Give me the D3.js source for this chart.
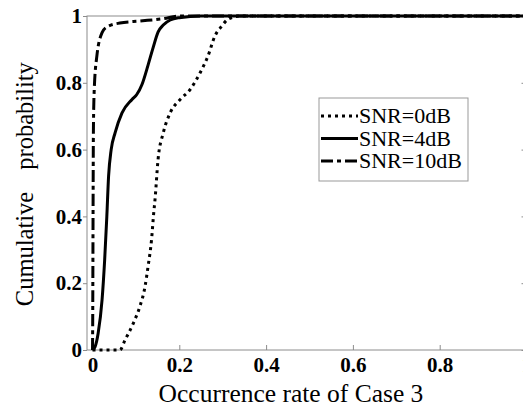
<!DOCTYPE html>
<html>
<head>
<meta charset="utf-8">
<script src="https://cdn.jsdelivr.net/npm/d3@7"></script>
<style>
  body { margin: 0; background: #fff; }
  svg text { font-family: "Liberation Serif", "Times New Roman", Times, "DejaVu Serif", serif !important; }
</style>
</head>
<body>
<svg id="chart" width="523" height="416"></svg>
<script>
// CDF curves
const snr0_x  = [0, 0.03, 0.063, 0.075, 0.094, 0.109, 0.121, 0.128, 0.136, 0.141, 0.144, 0.151, 0.163, 0.179, 0.202, 0.225, 0.248, 0.266, 0.282, 0.298, 0.312, 0.34, 0.5, 1]
const snr0_y  = [0, 0, 0, 0.03, 0.08, 0.13, 0.19, 0.25, 0.33, 0.41, 0.45, 0.57, 0.65, 0.71, 0.75, 0.78, 0.83, 0.88, 0.94, 0.97, 0.99, 1, 1, 1]

const snr4_x  = [0, 0.006, 0.013, 0.022, 0.028, 0.033, 0.037, 0.043, 0.052, 0.068, 0.091, 0.102, 0.114, 0.128, 0.140, 0.151, 0.163, 0.179, 0.2, 0.25, 0.5, 1]
const snr4_y  = [0, 0.01, 0.05, 0.15, 0.27, 0.40, 0.52, 0.60, 0.65, 0.71, 0.75, 0.765, 0.795, 0.853, 0.907, 0.952, 0.973, 0.988, 0.995, 1, 1, 1]

const snr10_x = [0, 0.0005, 0.001, 0.0015, 0.002, 0.004, 0.01, 0.022, 0.033, 0.063, 0.11, 0.163, 0.2, 0.5, 1]
const snr10_y = [0, 0.1, 0.3, 0.5, 0.65, 0.78, 0.88, 0.95, 0.967, 0.979, 0.985, 0.992, 1, 1, 1]

const seriesNames = ["SNR=0dB", "SNR=4dB", "SNR=10dB"]
const xTicks = [0, 0.2, 0.4, 0.6, 0.8, 1]
const yTicks = [0, 0.2, 0.4, 0.6, 0.8, 1]

const series = [
  {name: seriesNames[0], pts: snr0_x.map((d, i) => [d, snr0_y[i]]), dash: "3,4"},
  {name: seriesNames[1], pts: snr4_x.map((d, i) => [d, snr4_y[i]]), dash: null},
  {name: seriesNames[2], pts: snr10_x.map((d, i) => [d, snr10_y[i]]), dash: "12,4,4,4"}
]

const serif = '"Liberation Serif", "Times New Roman", Times, "DejaVu Serif", serif'
const svg = d3.select("#chart")
const plotL = 87, plotR = 526.5, plotT = 16, plotB = 350

const x = d3.scaleLinear().domain([-0.0127, 1]).range([plotL, plotR])
const y = d3.scaleLinear().domain([0, 1]).range([plotB, plotT])

svg.append("rect").attr("width", 523).attr("height", 416).attr("fill", "#fff")

// frame
const axisCol = "#8c8c8c"
svg.append("rect")
   .attr("x", plotL).attr("y", plotT)
   .attr("width", plotR - plotL).attr("height", plotB - plotT)
   .attr("fill", "none").attr("stroke", axisCol).attr("stroke-width", 1)

const xAxis = svg.append("g")
   .attr("transform", `translate(0,${plotB})`)
   .call(d3.axisBottom(x).tickValues(xTicks).tickSize(-5).tickPadding(7).tickFormat(d3.format("~g")))
xAxis.attr("font-family", serif)
xAxis.select(".domain").remove()
xAxis.selectAll("line").attr("stroke", axisCol)
xAxis.selectAll("text")
     .attr("fill", "#000").attr("font-size", 21).attr("font-weight", "bold")

const yAxis = svg.append("g")
   .attr("transform", `translate(${plotL},0)`)
   .call(d3.axisLeft(y).tickValues(yTicks).tickSize(4).tickPadding(1).tickFormat(d3.format("~g")))
yAxis.attr("font-family", serif)
yAxis.select(".domain").remove()
yAxis.selectAll("line").attr("stroke", axisCol)
yAxis.selectAll("text")
     .attr("fill", "#000").attr("font-size", 21).attr("font-weight", "bold")

// inward ticks on the right side
const yRight = svg.append("g")
   .attr("transform", `translate(${plotR},0)`)
   .call(d3.axisRight(y).tickValues(yTicks).tickSize(-5).tickFormat(""))
yRight.select(".domain").remove()
yRight.selectAll("line").attr("stroke", axisCol)

const line = d3.line()
   .x(d => x(d[0]))
   .y(d => y(d[1]))
   .curve(d3.curveMonotoneX)

svg.append("g").selectAll("path")
   .data(series)
   .enter()
   .append("path")
   .attr("d", d => line(d.pts))
   .attr("fill", "none")
   .attr("stroke", "#000")
   .attr("stroke-width", 3)
   .attr("stroke-dasharray", d => d.dash)

// axis titles
svg.append("text")
   .attr("x", 291).attr("y", 402)
   .attr("text-anchor", "middle")
   .attr("font-family", serif).attr("font-size", 25.5)
   .text("Occurrence rate of Case 3")

svg.append("text")
   .attr("transform", "translate(33,249) rotate(-90)")
   .attr("text-anchor", "middle")
   .attr("font-family", serif).attr("font-size", 24.5)
   .text("Cumulative")
svg.append("text")
   .attr("transform", "translate(33,116) rotate(-90)")
   .attr("text-anchor", "middle")
   .attr("font-family", serif).attr("font-size", 24.5)
   .text("probability")

// legend
const legend = svg.append("g")
legend.append("rect")
      .attr("x", 319).attr("y", 98).attr("width", 149).attr("height", 83)
      .attr("fill", "#fff").attr("stroke", "#999").attr("stroke-width", 1)

const rows = legend.selectAll(".row")
      .data(series)
      .enter()
      .append("g")
      .attr("class", "row")
      .attr("transform", (d, i) => `translate(0,${116 + i * 22.5})`)
rows.append("line")
    .attr("x1", 321).attr("x2", 358)
    .attr("stroke", "#000").attr("stroke-width", 3)
    .attr("stroke-dasharray", d => d.dash)
rows.append("text")
    .attr("x", 359).attr("y", 7)
    .attr("font-family", serif).attr("font-size", 22)
    .text(d => d.name)
</script>
</body>
</html>
